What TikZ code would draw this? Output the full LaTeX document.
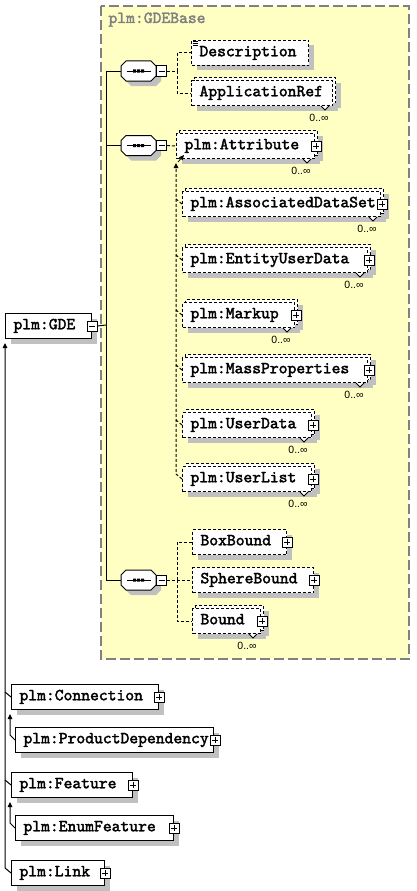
\documentclass[tikz,border=0pt]{standalone}
\usepackage{fontspec}
\newfontfamily\multfont{Liberation Sans}
\newfontfamily\boxff{lmmono10-regular.otf}[FakeBold=2.2]
\usetikzlibrary{arrows.meta,shadows}
\definecolor{baseyellow}{HTML}{FFFFC4}
\definecolor{shadowgray}{HTML}{C0C0C0}
\definecolor{basegray}{HTML}{808080}
\tikzset{
  boxfont/.style={font=\boxff\fontsize{16.8}{18}\selectfont},
  elembox/.style={draw, fill=white, boxfont, minimum height=25pt, inner ysep=0pt,
    inner xsep=8pt, align=left, anchor=north west, text height=9.5pt, text depth=3pt},
  optl/.style={dash pattern=on 3pt off 2pt},
  dconn/.style={dash pattern=on 3pt off 2pt},
  sh/.style={drop shadow={shadow xshift=5pt, shadow yshift=-5pt, fill=shadowgray, opacity=1}},
  backbox/.style={draw, fill=white, optl, minimum height=25pt, inner sep=0pt, anchor=north west,
    drop shadow={shadow xshift=2pt, shadow yshift=-8pt, fill=shadowgray, opacity=1},
    drop shadow={shadow xshift=5pt, shadow yshift=-5pt, fill=shadowgray, opacity=1}},
  pm/.style={draw, fill=white, solid, minimum size=10pt, inner sep=0pt, anchor=center},
  minusbox/.style={pm, path picture={\draw[line width=1pt] ([xshift=2pt]path picture bounding box.west) -- ([xshift=-2pt]path picture bounding box.east);}},
  plusbox/.style={pm, path picture={\draw[line width=1pt] ([xshift=2pt]path picture bounding box.west) -- ([xshift=-2pt]path picture bounding box.east); \draw[line width=1pt] ([yshift=-2pt]path picture bounding box.north) -- ([yshift=2pt]path picture bounding box.south);}},
  compnode/.style={rectangle, minimum width=35pt, minimum height=20pt, inner sep=0pt},
  mult/.style={font=\multfont\fontsize{10.5}{12}\selectfont, inner sep=0pt, anchor=center},
  notch/.style={fill=white, solid, line width=0.8pt},
  tip/.style={-{Triangle[length=5pt,width=4.5pt]}},
}
% single optional element
\newcommand\optel[5]{%
  \node[elembox, optl, sh, text width=#4pt-16pt] (#1) at (#2,#3) {\mbox{#5}};}
% repeated optional element
\newcommand\repel[5]{%
  \node[backbox, minimum width=#4pt] (#1b) at (#2+3,#3-3) {};
  \node[elembox, optl, text width=#4pt-16pt] (#1) at (#2,#3) {\mbox{#5}};
  \draw[notch] ([xshift=-12pt]#1.south east) -- ++(4,4) -- ++(4,-4);
  \node[mult] (#1n) at ([xshift=-14pt,yshift=-12pt]#1.south east) {0..∞};}
% required element
\newcommand\reqel[5]{%
  \node[elembox, sh, text width=#4pt-16pt] (#1) at (#2,#3) {\mbox{#5}};}
% sequence compositor
\newcommand\seqcomp[3]{%
  \node[compnode] (#1) at (#2,#3) {};
  \begin{scope}[shift={(#2+5,#3+5)}]
    \fill[shadowgray] (-17.5,-5) -- (-12.5,-10) -- (12.5,-10) -- (17.5,-5) -- (17.5,5) -- (12.5,10) -- (-12.5,10) -- (-17.5,5) -- cycle;
  \end{scope}
  \begin{scope}[shift={(#2,#3)}]
    \draw[fill=white] (-17.5,-5) -- (-12.5,-10) -- (12.5,-10) -- (17.5,-5) -- (17.5,5) -- (12.5,10) -- (-12.5,10) -- (-17.5,5) -- cycle;
    \draw (-11.5,0) -- (12.5,0);
    \fill (-5.5,-1.5) rectangle (-2.5,1.5) (-1.5,-1.5) rectangle (1.5,1.5) (2.5,-1.5) rectangle (5.5,1.5);
  \end{scope}
  \node[minusbox] (#1m) at ([xshift=5pt]#1.east) {};}

\begin{document}
\begin{tikzpicture}[x=1pt, y=-1pt, line width=1pt]
\useasboundingbox (0,0) rectangle (416,891);
\fill[white] (0,0) rectangle (416,891);
% GDEBase group
\draw[basegray, fill=baseyellow, line width=1.5pt, dash pattern=on 10pt off 4pt] (101,6) rectangle (409,659);
\node[basegray, boxfont, anchor=base west, inner sep=0pt] (baselabel) at (108,23) {plm:GDEBase};

% root element
\reqel{gde}{5}{313}{86}{plm:GDE}
\node[minusbox] (gdem) at (gde.east) {};
\coordinate (j) at (106,325);

% compositors
\seqcomp{ca}{138.5}{71}
\seqcomp{cb}{138.5}{145.5}
\seqcomp{cc}{138.5}{580}

% first sequence
\optel{desc}{191}{40}{117}{Description}
\foreach \dy in {1.5,3.5,5.5}
  \draw[line width=0.8pt] ([shift={(1.5pt,-\dy pt)}]desc.north west) -- ++(5,0);
\repel{appref}{191}{80}{141}{ApplicationRef}

% second sequence (substitution group)
\repel{attr}{176}{133}{138}{plm:Attribute}
\node[plusbox] (attrp) at ([xshift=1pt]attr.east) {};
\repel{assoc}{182}{191}{198}{plm:AssociatedDataSet}
\node[plusbox] (assocp) at ([xshift=1pt]assoc.east) {};
\repel{entity}{182}{247}{185}{plm:EntityUserData}
\node[plusbox] (entityp) at ([xshift=1pt]entity.east) {};
\repel{markup}{182}{302}{112}{plm:Markup}
\node[plusbox] (markupp) at ([xshift=1pt]markup.east) {};
\repel{mass}{182}{357}{185}{plm:MassProperties}
\node[plusbox] (massp) at ([xshift=1pt]mass.east) {};
\repel{udata}{182}{412}{129}{plm:UserData}
\node[plusbox] (udatap) at ([xshift=1pt]udata.east) {};
\repel{ulist}{182}{466}{129}{plm:UserList}
\node[plusbox] (ulistp) at ([xshift=1pt]ulist.east) {};

% third sequence
\optel{boxb}{192}{529}{94}{BoxBound}
\node[plusbox] (boxbp) at (boxb.east) {};
\optel{sphb}{192}{567}{121}{SphereBound}
\node[plusbox] (sphbp) at (sphb.east) {};
\repel{bound}{192}{608}{68}{Bound}
\node[plusbox] (boundp) at ([xshift=1pt]bound.east) {};

% derived types
\reqel{conn}{11}{684}{147}{plm:Connection}
\node[plusbox] (connp) at (conn.east) {};
\reqel{prod}{15}{727}{198}{plm:ProductDependency}
\node[plusbox] (prodp) at ([xshift=1pt]prod.east) {};
\reqel{feat}{11}{772}{121}{plm:Feature}
\node[plusbox] (featp) at (feat.east) {};
\reqel{enumf}{15}{815}{158}{plm:EnumFeature}
\node[plusbox] (enumfp) at (enumf.east) {};
\reqel{link}{11}{860}{93}{plm:Link}
\node[plusbox] (linkp) at (link.east) {};

% connectors: model group
\draw (gdem.east) -- (j);
\draw (ca.west) -| (j);
\draw (cb.west) -| (j);
\draw (cc.west) -| (j);

% first sequence
\coordinate (ba) at (177,71);
\draw[dconn] (cam.east) -- (ba);
\draw[dconn] (ba) |- (desc.west);
\draw[dconn] (ba) |- (appref.west);

% second sequence
\draw[dconn] (cbm.east) -- (attr.west);
\draw[dconn, tip] (ulist.west) -- ++(-6,-5) -- ([yshift=-4pt]attr.south west);
\foreach \n in {assoc,entity,markup,mass,udata}
  \draw[dconn] (\n.west) -- ++(-6,-5);
\draw[tip, line width=0.8pt] ([xshift=2pt,yshift=-3pt]attr.south west) -- ++(6,-7);

% third sequence
\coordinate (bc) at (177,580);
\draw[dconn] (ccm.east) -- (bc);
\draw[dconn] (bc) |- (boxb.west);
\draw[dconn] (bc) |- (sphb.west);
\draw[dconn] (bc) |- (bound.west);

% derivations
\draw[tip] (link.west) -- ++(-6,-5) -- ([yshift=-4pt]gde.south west);
\draw (conn.west) -- ++(-6,-5);
\draw (feat.west) -- ++(-6,-5);
\draw[tip] (prod.west) -- ++(-5,-5) -- ([xshift=-1pt,yshift=-4pt]conn.south west);
\draw[tip] (enumf.west) -- ++(-5,-5) -- ([xshift=-1pt,yshift=-4pt]feat.south west);
\end{tikzpicture}
\end{document}
